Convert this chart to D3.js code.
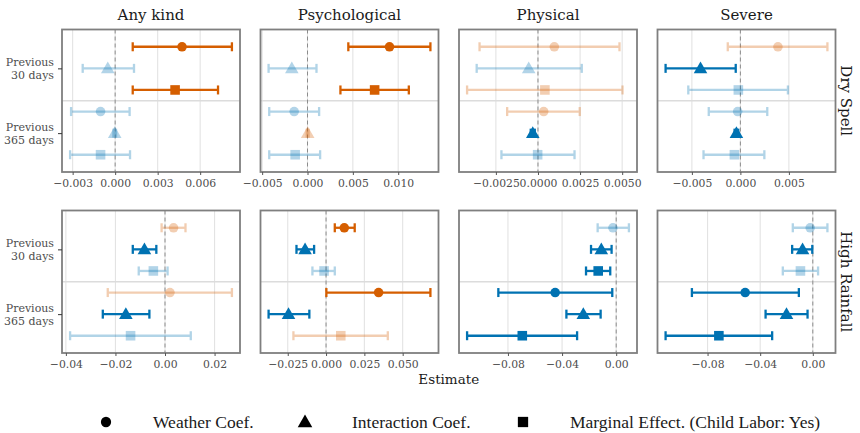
<!DOCTYPE html>
<html>
<head>
<meta charset="utf-8">
<script src="https://cdn.jsdelivr.net/npm/d3@7"></script>
<style>
  body { margin: 0; background: #fff; }
  text { font-family: "DejaVu Serif", serif; }
</style>
</head>
<body>
<div id="chart"></div>
<script>
var outcomes = ['Any kind', 'Psychological', 'Physical', 'Severe'];
var shocks = ['Dry Spell', 'High Rainfall'];
var periods = [['Previous', '30 days'], ['Previous', '365 days']];
var terms = ['Weather Coef.', 'Interaction Coef.', 'Marginal Effect. (Child Labor: Yes)'];

// one row per outcome: 30 days (weather, interaction, marginal), then 365 days
var dryEst = [
  [0.00472, -0.00052, 0.00423, -0.00103, -0.00003, -0.00103],
  [0.00904, -0.00173, 0.00740, -0.00147, 0.00002, -0.00136],
  [0.00097, -0.00055, 0.00041, 0.00034, -0.00031, -0.00002],
  [0.00387, -0.00411, -0.00021, -0.00028, -0.00041, -0.00062]
];
var dryLo = [
  [0.00124, -0.00229, 0.00124, -0.00311, -0.00012, -0.00318],
  [0.00450, -0.00429, 0.00363, -0.00422, -0.00008, -0.00422],
  [-0.00347, -0.00364, -0.00421, -0.00183, -0.00043, -0.00217],
  [-0.00130, -0.00771, -0.00537, -0.00326, -0.00060, -0.00380]
];
var dryHi = [
  [0.00824, 0.00133, 0.00726, 0.00102, 0.00006, 0.00105],
  [0.01355, 0.00099, 0.01117, 0.00128, 0.00012, 0.00139],
  [0.00484, 0.00260, 0.00502, 0.00248, -0.00019, 0.00217],
  [0.00897, -0.00048, 0.00490, 0.00277, -0.00022, 0.00247]
];
var drySig = [
  [1, 0, 1, 0, 0, 0],
  [1, 0, 1, 0, 0, 0],
  [0, 0, 0, 0, 1, 0],
  [0, 1, 0, 0, 1, 0]
];

var rainEst = [
  [0.00345, -0.0083, -0.0047, 0.0020, -0.0158, -0.0139],
  [0.0119, -0.0137, -0.0013, 0.0343, -0.0245, 0.0096],
  [-0.0024, -0.0110, -0.0133, -0.0451, -0.0243, -0.0694],
  [-0.0020, -0.0078, -0.0094, -0.0514, -0.0200, -0.0714]
];
var rainLo = [
  [-0.00137, -0.0130, -0.0106, -0.0231, -0.0251, -0.0383],
  [0.0057, -0.0193, -0.0089, 0.0002, -0.0375, -0.0213],
  [-0.0137, -0.0186, -0.0223, -0.0871, -0.0368, -0.1102],
  [-0.0152, -0.0157, -0.0228, -0.0919, -0.0359, -0.1119]
];
var rainHi = [
  [0.00827, -0.0035, 0.00104, 0.0270, -0.0063, 0.0104],
  [0.0187, -0.0078, 0.0057, 0.0681, -0.0109, 0.0403],
  [0.0094, -0.0034, -0.0044, -0.0029, -0.0115, -0.0289],
  [0.0111, -0.0004, 0.0040, -0.0106, -0.0040, -0.0309]
];
var rainSig = [
  [0, 1, 0, 0, 1, 0],
  [1, 1, 0, 1, 1, 0],
  [0, 1, 1, 1, 1, 1],
  [0, 1, 0, 1, 1, 1]
];

// x tick values and decimals for each panel
var dryTicks = [[-0.003, 0, 0.003, 0.006], [-0.005, 0, 0.005, 0.010], [-0.0025, 0, 0.0025, 0.005], [-0.005, 0, 0.005]];
var rainTicks = [[-0.04, -0.02, 0, 0.02], [-0.025, 0, 0.025, 0.05], [-0.08, -0.04, 0], [-0.08, -0.04, 0]];
var dryDigits = [3, 3, 4, 3];
var rainDigits = [2, 3, 2, 2];
// extra values the x scale has to reach (limits set beyond the data)
var dryBlank = [[], [], [0.0054], []];
var rainBlank = [[], [], [], []];

var blue = '#0072B2', orange = '#D55E00';
var shapes = [d3.symbolCircle, d3.symbolTriangle, d3.symbolSquare];
var shapeSizes = [72, 80, 92];
var layout = { left: 62, top: 29.5, width: 178, height: 142.5, gapX: 20.5, gapY: 38.5 };

var sets = [
  { est: dryEst, lo: dryLo, hi: dryHi, sig: drySig, ticks: dryTicks, digits: dryDigits, blank: dryBlank },
  { est: rainEst, lo: rainLo, hi: rainHi, sig: rainSig, ticks: rainTicks, digits: rainDigits, blank: rainBlank }
];

var svg = d3.select('#chart').append('svg')
  .attr('width', 860)
  .attr('height', 433);

shocks.forEach(function(shock, r) {
  outcomes.forEach(function(outcome, c) {
    drawPanel(r, c);
  });
  // strip label on the right
  var cy = layout.top + r * (layout.height + layout.gapY) + layout.height / 2;
  svg.append('text')
    .attr('transform', 'translate(846,' + cy + ') rotate(90)')
    .attr('text-anchor', 'middle')
    .attr('dy', '0.35em')
    .style('font-size', '15px')
    .style('fill', '#1a1a1a')
    .text(shock);
});

outcomes.forEach(function(outcome, c) {
  svg.append('text')
    .attr('x', layout.left + c * (layout.width + layout.gapX) + layout.width / 2)
    .attr('y', 20)
    .attr('text-anchor', 'middle')
    .style('font-size', '15px')
    .style('fill', '#1a1a1a')
    .text(outcome);
});

svg.append('text')
  .attr('x', layout.left + (4 * layout.width + 3 * layout.gapX) / 2)
  .attr('y', 384)
  .attr('text-anchor', 'middle')
  .style('font-size', '13.5px')
  .style('fill', '#1a1a1a')
  .text('Estimate');

// legend
var legendX = [106, 305, 523];
terms.forEach(function(term, i) {
  svg.append('path')
    .attr('d', d3.symbol().type(shapes[i]).size(shapeSizes[i] * 1.15)())
    .attr('transform', 'translate(' + legendX[i] + ',' + (i == 1 ? 423 : 422) + ')')
    .style('fill', '#000');
  svg.append('text')
    .attr('x', legendX[i] + 47)
    .attr('y', 427.5)
    .style('font-family', '"Liberation Serif", serif')
    .style('font-size', '17.5px')
    .style('fill', '#1a1a1a')
    .text(term);
});

function drawPanel(r, c) {
  var set = sets[r];
  var x0 = layout.left + c * (layout.width + layout.gapX);
  var y0 = layout.top + r * (layout.height + layout.gapY);
  var rows = set.est[c].map(function(e, i) {
    return {
      est: e,
      lo: set.lo[c][i],
      hi: set.hi[c][i],
      sig: set.sig[c][i],
      period: Math.floor(i / 3),
      term: i % 3
    };
  });
  var ext = [d3.min(rows, function(d) { return d.lo; }), d3.max(rows, function(d) { return d.hi; })]
    .concat(set.blank[c]);
  var lo = d3.min(ext), hi = d3.max(ext), pad = (hi - lo) * 0.05;
  var x = d3.scaleLinear().domain([lo - pad, hi + pad]).range([x0, x0 + layout.width]);
  var y = d3.scalePoint().domain([0, 1]).range([y0, y0 + layout.height]).padding(0.6);
  var dodge = y.step() / 3;
  var ypos = function(d) { return y(d.period) + (d.term - 1) * dodge; };
  var colour = function(d) { return d.est > 0 ? orange : blue; };
  var alpha = function(d) { return d.sig ? 1 : 0.3; };

  var g = svg.append('g');

  g.selectAll('line.grid')
    .data(set.ticks[c])
    .enter().append('line')
    .attr('class', 'grid')
    .attr('x1', function(d) { return x(d); })
    .attr('x2', function(d) { return x(d); })
    .attr('y1', y0)
    .attr('y2', y0 + layout.height)
    .style('stroke', '#e3e3e3')
    .style('stroke-width', 1.1);

  g.append('line')
    .attr('x1', x0).attr('x2', x0 + layout.width)
    .attr('y1', (y(0) + y(1)) / 2).attr('y2', (y(0) + y(1)) / 2)
    .style('stroke', '#dcdcdc')
    .style('stroke-width', 1.4);

  g.append('line')
    .attr('x1', x(0)).attr('x2', x(0))
    .attr('y1', y0).attr('y2', y0 + layout.height)
    .style('stroke', '#8c8c8c')
    .style('stroke-width', 1)
    .style('stroke-dasharray', '4,3');

  var bars = g.selectAll('g.bar')
    .data(rows)
    .enter().append('g')
    .attr('class', 'bar')
    .style('opacity', alpha)
    .style('stroke', colour)
    .style('stroke-width', 2.3);
  bars.append('line')
    .attr('x1', function(d) { return x(d.lo); })
    .attr('x2', function(d) { return x(d.hi); })
    .attr('y1', ypos).attr('y2', ypos);
  bars.append('line')
    .attr('x1', function(d) { return x(d.lo); })
    .attr('x2', function(d) { return x(d.lo); })
    .attr('y1', function(d) { return ypos(d) - 4.5; })
    .attr('y2', function(d) { return ypos(d) + 4.5; });
  bars.append('line')
    .attr('x1', function(d) { return x(d.hi); })
    .attr('x2', function(d) { return x(d.hi); })
    .attr('y1', function(d) { return ypos(d) - 4.5; })
    .attr('y2', function(d) { return ypos(d) + 4.5; });

  g.selectAll('path.pt')
    .data(rows)
    .enter().append('path')
    .attr('class', 'pt')
    .attr('d', function(d) { return d3.symbol().type(shapes[d.term]).size(shapeSizes[d.term])(); })
    .attr('transform', function(d) {
      return 'translate(' + x(d.est) + ',' + (ypos(d) + (d.term == 1 ? 1 : 0)) + ')';
    })
    .style('fill', colour)
    .style('opacity', alpha);

  g.append('rect')
    .attr('x', x0).attr('y', y0)
    .attr('width', layout.width).attr('height', layout.height)
    .style('fill', 'none')
    .style('stroke', '#7f7f7f')
    .style('stroke-width', 1.8);

  var fmt = d3.format('.' + set.digits[c] + 'f');
  var ax = g.append('g')
    .attr('transform', 'translate(0,' + (y0 + layout.height) + ')')
    .call(d3.axisBottom(x).tickValues(set.ticks[c]).tickFormat(fmt).tickSize(3).tickPadding(4.5));
  ax.select('.domain').remove();
  ax.selectAll('line').style('stroke', '#555').style('stroke-width', 1);
  ax.selectAll('text')
    .style('font-family', '"DejaVu Serif", serif')
    .style('font-size', '10.8px')
    .style('fill', '#4d4d4d');

  if (c == 0) {
    var ay = g.append('g')
      .attr('transform', 'translate(' + x0 + ',0)')
      .call(d3.axisLeft(y).tickSize(4).tickPadding(4));
    ay.select('.domain').remove();
    ay.selectAll('line').style('stroke', '#333').style('stroke-width', 1);
    ay.selectAll('text').each(function(d) {
      var t = d3.select(this).text('').attr('dy', null)
        .style('font-family', '"DejaVu Serif", serif')
        .style('font-size', '11px')
        .style('fill', '#4d4d4d');
      periods[d].forEach(function(line, k) {
        t.append('tspan')
          .attr('x', -8)
          .attr('dy', k == 0 ? '-0.25em' : '1.15em')
          .text(line);
      });
    });
  }
}
</script>
</body>
</html>
